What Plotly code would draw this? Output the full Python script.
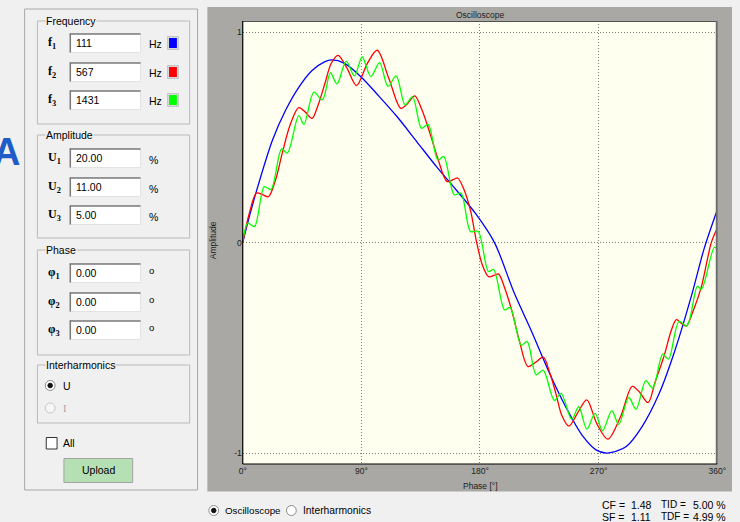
import plotly.graph_objects as go

# ---------------- data ----------------
phase_f1 = [0, 5.5, 11.4, 22.6, 32.6, 42.5, 52.4, 62.4, 67.3, 77.3, 90, 102, 117, 132, 147, 162, 177,
            191, 206, 219, 232, 245, 258, 268, 276, 284, 291, 303, 316, 328, 341, 350, 360]
amp_f1 = [0, 0.135, 0.266, 0.488, 0.63, 0.738, 0.817, 0.86, 0.868, 0.852, 0.786, 0.705, 0.599, 0.48, 0.361,
          0.25, 0.135, 0.0, -0.24, -0.42, -0.61, -0.78, -0.92, -0.985, -1.0, -0.99, -0.969, -0.874, -0.716,
          -0.51, -0.24, -0.03, 0.155]

phase_f2 = [0, 5, 10.5, 15, 19.5, 25, 30, 36, 42.5, 47.5, 52.5, 57, 62.4, 67, 72.3, 79, 86.3, 94.6, 102,
            110.8, 120, 125, 130.5, 136, 142, 148, 155, 160, 163, 168, 173, 177.5, 182, 186.5, 191, 194,
            199, 204, 210, 216.4, 222, 228, 233, 237.5, 242, 247.4, 254, 261, 268.6, 277, 286.7, 295.5,
            301, 307.5, 313, 319.6, 325, 329, 333, 336.5, 342, 348, 355.5, 360]
amp_f2 = [0, 0.14, 0.236, 0.228, 0.218, 0.30, 0.425, 0.56, 0.641, 0.62, 0.59, 0.65, 0.757, 0.85, 0.89,
          0.83, 0.746, 0.852, 0.914, 0.781, 0.638, 0.66, 0.697, 0.63, 0.52, 0.40, 0.29, 0.30, 0.307, 0.25,
          0.147, 0.0, -0.11, -0.162, -0.155, -0.149, -0.22, -0.32, -0.47, -0.589, -0.57, -0.544, -0.62,
          -0.715, -0.82, -0.872, -0.81, -0.747, -0.86, -0.934, -0.826, -0.683, -0.71, -0.76, -0.66, -0.54,
          -0.42, -0.366, -0.385, -0.396, -0.32, -0.209, 0.0, 0.068]

phase_f3 = [0, 3.9, 8.9, 16.4, 21.4, 29.5, 33.8, 42.5, 46.4, 54, 60.5, 66.5, 71.5, 78.5, 84.7, 90.6, 97.2,
            103.8, 110.2, 116.4, 123.2, 128.8, 135.6, 140.6, 148.1, 152.5, 160.5, 165.5, 172.9, 178.5,
            186.5, 190.3, 198.7, 202.8, 211.4, 215.8, 222.6, 227.9, 236.4, 241.5, 249.6, 254.9, 261.1,
            267.3, 273, 280, 285.2, 292.9, 298.4, 305.8, 311, 318.7, 323, 331, 336.9, 345, 348, 357.8, 360]
amp_f3 = [0, 0.092, 0.076, 0.266, 0.252, 0.445, 0.425, 0.603, 0.562, 0.715, 0.678, 0.807, 0.754, 0.862,
          0.792, 0.882, 0.789, 0.855, 0.742, 0.792, 0.654, 0.694, 0.543, 0.562, 0.393, 0.409, 0.227,
          0.235, 0.052, 0.054, -0.138, -0.128, -0.32, -0.308, -0.488, -0.47, -0.628, -0.606, -0.75,
          -0.716, -0.84, -0.78, -0.886, -0.811, -0.894, -0.798, -0.864, -0.736, -0.792, -0.656, -0.692,
          -0.529, -0.554, -0.375, -0.396, -0.207, -0.222, -0.022, -0.031]

x_ticks = [0, 90, 180, 270, 360]
x_tick_labels = ["0°", "90°", "180°", "270°", "360°"]
y_ticks = [-1, 0, 1]
y_tick_labels = ["-1", "0", "1"]

freq_values = ["111", "567", "1431"]
amp_values = ["20.00", "11.00", "5.00"]
phase_values = ["0.00", "0.00", "0.00"]
series_colors = ["#0000ff", "#ff0000", "#00ff00"]
stat_names_left = ["CF =", "SF ="]
stat_values_left = ["1.48", "1.11"]
stat_names_right = ["TID =", "TDF ="]
stat_values_right = ["5.00 %", "4.99 %"]

# ---------------- layout helpers ----------------
W, H = 740, 522
UI = "Liberation Sans, Arial, sans-serif"
SERIF = "Liberation Serif, Times New Roman, serif"


def X(px):
    return px / W


def Y(py):
    return 1 - py / H


shapes = []
annotations = []


def rect(x0, y0, x1, y1, fill=None, line=None, width=1, layer="above"):
    shapes.append(dict(type="rect", xref="paper", yref="paper", x0=X(x0), x1=X(x1), y0=Y(y0), y1=Y(y1),
                       fillcolor=fill if fill else "rgba(0,0,0,0)",
                       line=dict(color=line if line else "rgba(0,0,0,0)", width=width if line else 0),
                       layer=layer))


def hline(x0, x1, y, color, width=1, layer="above"):
    shapes.append(dict(type="line", xref="paper", yref="paper", x0=X(x0), x1=X(x1), y0=Y(y), y1=Y(y),
                       line=dict(color=color, width=width), layer=layer))


def vline(x, y0, y1, color, width=1, layer="above"):
    shapes.append(dict(type="line", xref="paper", yref="paper", x0=X(x), x1=X(x), y0=Y(y0), y1=Y(y1),
                       line=dict(color=color, width=width), layer=layer))


def circle(cx, cy, r, fill, line, width=1):
    shapes.append(dict(type="circle", xref="paper", yref="paper", x0=X(cx - r), x1=X(cx + r),
                       y0=Y(cy + r), y1=Y(cy - r), fillcolor=fill,
                       line=dict(color=line, width=width), layer="above"))


def txt(x, y, s, size=10.5, color="#000000", anchor="left", family=UI, bg=None, angle=0):
    a = dict(x=X(x), y=Y(y), xref="paper", yref="paper", text=s, showarrow=False, xanchor=anchor,
             yanchor="middle", font=dict(size=size, color=color, family=family), textangle=angle,
             borderpad=0)
    if bg:
        a["bgcolor"] = bg
    annotations.append(a)


def textbox(x0, y0, x1, y1, value):
    rect(x0, y0, x1, y1, fill="#ffffff", line="#e3e3e3", width=1)
    hline(x0, x1, y0 + 0.5, "#7a7a7a", 1.5)
    vline(x0 + 0.5, y0, y1, "#7a7a7a", 1.5)
    txt(x0 + 5, (y0 + y1) / 2, value, size=10.5)


def groupbox(y0, y1, title):
    rect(34, y0, 189, y1, line="#b9b9b9", width=1)
    txt(42, y0, title, size=10.5, bg="#f0f0f0")


# ---------------- left control panel ----------------
rect(21, 9, 197, 490, line="#a9a9a9", width=1)

groupbox(21, 124, "Frequency")
row_freq = [43, 72, 100]
for i, yc in enumerate(row_freq):
    txt(44, yc, "<b>f<sub>%d</sub></b>" % (i + 1), size=12, family=SERIF)
    textbox(67, yc - 9.5, 139, yc + 9.5, freq_values[i])
    txt(147, yc + 1, "Hz", size=10.5)
    rect(166.5, yc - 6.5, 177.5, yc + 6.5, fill="#d9d9d9", line="#c4c4c4", width=1)
    rect(168, yc - 5, 176, yc + 5, fill=series_colors[i])

groupbox(135, 238, "Amplitude")
row_amp = [158, 187, 215]
for i, yc in enumerate(row_amp):
    txt(44, yc, "<b>U<sub>%d</sub></b>" % (i + 1), size=12, family=SERIF)
    textbox(67, yc - 9.5, 139, yc + 9.5, amp_values[i])
    txt(147, yc + 2, "%", size=10.5)

groupbox(250, 355, "Phase")
row_phase = [273, 302, 330]
for i, yc in enumerate(row_phase):
    txt(44, yc, "<b>φ<sub>%d</sub></b>" % (i + 1), size=12, family=SERIF)
    textbox(67, yc - 9.5, 139, yc + 9.5, phase_values[i])
    txt(147, yc - 3, "o", size=9.5)

groupbox(365, 423, "Interharmonics")
circle(47, 385.5, 5, "#ffffff", "#8c8c8c")
circle(47, 385.5, 2.3, "#111111", "#111111")
txt(59, 385.5, "U", size=10.5)
circle(47, 408, 5, "#f6f6f6", "#c9c9c9")
txt(59, 408, "I", size=10.5, color="#a5a5a5", family=SERIF)

rect(43, 437.5, 54, 449, fill="#ffffff", line="#333333", width=1)
txt(59, 443, "All", size=10.5)

rect(61, 458.5, 131, 482.5, fill="#b4e0b4", line="#a3a3a3", width=1)
txt(96, 470.5, "Upload", size=10.5, anchor="center")

txt(3, 152, "<b>A</b>", size=38, color="#1f5cc8", anchor="center")

# ---------------- oscilloscope frame ----------------
rect(207, 7, 741, 491.5, fill="#a9a8a4", layer="below")
rect(243, 21, 726, 464, fill="#fffff0", layer="below")
hline(243, 726, 21.5, "#505050", 1.2)
vline(725.5, 21, 464, "#6e6e6e", 2)
vline(243, 21, 464, "#000000", 1.2)
hline(243, 726, 464, "#000000", 1.2)

txt(484.5, 14.5, "Oscilloscope", size=8.5, color="#202020", anchor="center")
txt(485, 486, "Phase [°]", size=8.5, color="#202020", anchor="center")
txt(213, 240, "Amplitude", size=8.5, color="#202020", anchor="center", angle=-90)

# bottom radio buttons
circle(213.5, 510.5, 5, "#ffffff", "#8c8c8c")
circle(213.5, 510.5, 2.3, "#111111", "#111111")
txt(224, 510.5, "Oscilloscope", size=9.8)
circle(292.5, 510.5, 5, "#ffffff", "#8c8c8c")
txt(303.5, 510.5, "Interharmonics", size=10.3)

# statistics
for i, yc in enumerate([504.5, 516.8]):
    txt(608, yc, stat_names_left[i], size=10.5)
    txt(637, yc, stat_values_left[i], size=10.5)
    txt(668, yc, stat_names_right[i], size=10)
    txt(700, yc, stat_values_right[i], size=10.5)

# ---------------- traces ----------------
fig = go.Figure()
for name, xs, ys, col in [("f1", phase_f1, amp_f1, series_colors[0]),
                          ("f2", phase_f2, amp_f2, series_colors[1]),
                          ("f3", phase_f3, amp_f3, series_colors[2])]:
    fig.add_trace(go.Scatter(x=xs, y=ys, mode="lines", name=name,
                             line=dict(color=col, width=1.3, shape="spline", smoothing=0.9),
                             hoverinfo="skip"))

fig.update_layout(
    width=W, height=H, autosize=False,
    margin=dict(l=0, r=0, t=0, b=0, pad=0),
    paper_bgcolor="#f0f0f0",
    plot_bgcolor="#fffff0",
    showlegend=False,
    shapes=shapes,
    annotations=annotations,
    xaxis=dict(domain=[X(243), X(726)], range=[0, 360], tickvals=x_ticks, ticktext=x_tick_labels,
               showgrid=True, gridcolor="#808080", griddash="1px,2px", gridwidth=1, zeroline=False,
               showline=False, ticks="", tickfont=dict(size=8.5, color="#202020", family=UI),
               fixedrange=True),
    yaxis=dict(domain=[Y(464), Y(21)], range=[-1.052, 1.053], tickvals=y_ticks, ticktext=y_tick_labels,
               showgrid=True, gridcolor="#808080", griddash="1px,2px", gridwidth=1, zeroline=False,
               showline=False, ticks="", tickfont=dict(size=8.5, color="#202020", family=UI),
               fixedrange=True),
)

fig.write_html("out.html", config={"displayModeBar": False},
               post_script="document.body.style.margin='0';document.body.style.overflow='hidden';")
